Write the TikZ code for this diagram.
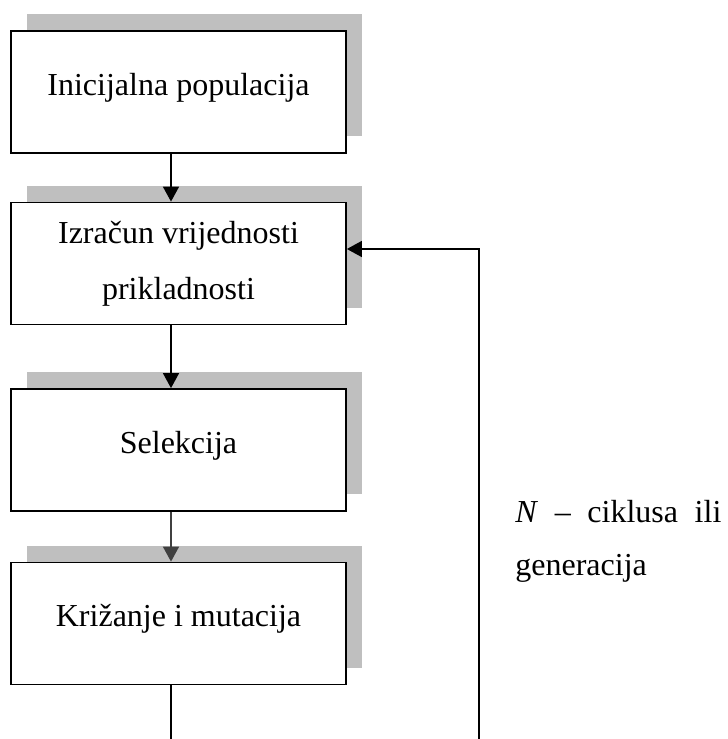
\documentclass[tikz,border=0pt]{standalone}
\usepackage{fontspec}
\setmainfont{Liberation Serif}
\usetikzlibrary{arrows.meta,shadows}
\definecolor{shadowgray}{RGB}{191,191,191}
\definecolor{arrowgray}{RGB}{64,64,64}

\begin{document}
\begin{tikzpicture}[x=0.5pt,y=-0.5pt,
    stage/.style={draw, line width=0.9pt, fill=white, minimum width=167.5pt, minimum height=61pt,
      inner sep=0pt, align=center, font=\fontsize{16pt}{28pt}\selectfont,
      general shadow={shadow xshift=8pt, shadow yshift=8.5pt, fill=shadowgray}},
    oneline/.style={text height=11pt, text depth=8pt},
    flow/.style={-{Triangle[length=7.5pt,width=8pt]}, line width=0.75pt}]
  \useasboundingbox (0,0) rectangle (728,739);

  % stages of the loop
  \node[stage, oneline] (init) at (178.5,92) {Inicijalna populacija};
  \node[stage] (fit) at (178.5,263.5) {Izračun vrijednosti\\prikladnosti};
  \node[stage, oneline] (sel) at (178.5,450) {Selekcija};
  \node[stage, oneline] (cross) at (178.5,623.5) {Križanje i mutacija};

  % open ends at the bottom edge
  \coordinate (out) at (171,739);
  \coordinate (back) at (479,739);

  \draw[flow] (init.south -| out) -- (fit.north -| out);
  \draw[flow] (fit.south -| out) -- (sel.north -| out);
  \draw[flow, arrowgray] (sel.south -| out) -- (cross.north -| out);
  \draw[line width=0.75pt] (cross.south -| out) -- (out);
  \draw[flow] (back) |- ([yshift=7.25pt]fit.east);

  \node[anchor=north west, align=left, inner sep=0pt,
    font=\fontsize{16pt}{26.5pt}\selectfont] (cycles) at (515,500)
    {\hbox to 103pt{\textit{N}\hfill–\hfill ciklusa\hfill ili}\\generacija};
\end{tikzpicture}
\end{document}
